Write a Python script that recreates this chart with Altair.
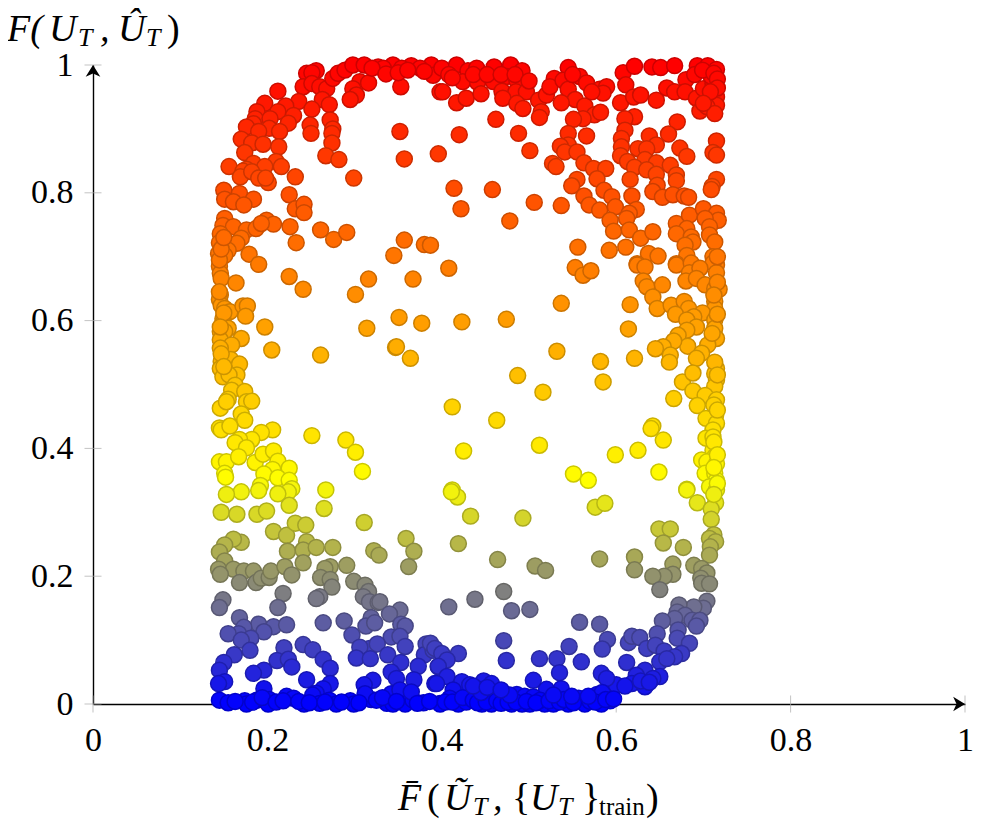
import altair as alt
import pandas as pd

top_left = [[.256,.991],[.245,.987],[.251,.988],[.241,.966],[.251,.971],[.260,.966],[.268,.963],[.275,.979],[.281,.987],[.289,.992],[.298,1.0],[.311,1.0],[.327,.997],[.344,1.0],[.365,.999],[.388,1.0],[.333,.995],[.354,.995],[.375,.995],[.390,.984],[.306,.974],[.316,.972],[.298,.963],[.302,.953],[.295,.946],[.353,.966],[.398,.958],[.212,.959],[.197,.940],[.236,.943],[.221,.936],[.263,.946],[.271,.938],[.251,.931],[.212,.927],[.188,.927],[.230,.921],[.186,.916],[.203,.916],[.224,.909],[.184,.908],[.176,.903],[.202,.901],[.214,.896],[.190,.896],[.272,.914],[.249,.906],[.275,.900],[.250,.893],[.274,.893],[.274,.878],[.170,.884],[.182,.878],[.195,.876],[.213,.872],[.174,.863],[.267,.858],[.282,.852],[.352,.896],[.357,.853],[.396,.861],[.156,.841],[.184,.846],[.210,.849],[.216,.841],[.197,.841],[.176,.837],[.172,.834],[.169,.825],[.182,.833],[.190,.823],[.201,.816],[.198,.823],[.232,.825],[.299,.823],[.150,.804],[.168,.799],[.184,.790],[.151,.790],[.161,.786],[.173,.781],[.225,.797],[.232,.775],[.242,.782],[.242,.769],[.151,.760],[.149,.749],[.161,.747],[.146,.736],[.176,.742],[.187,.744],[.199,.757],[.207,.751],[.193,.752],[.226,.747],[.261,.742],[.276,.727],[.291,.738],[.233,.722],[.170,.729],[.165,.721],[.145,.722],[.155,.710],[.144,.705],[.151,.702],[.145,.685],[.179,.704],[.190,.688],[.357,.726],[.380,.719],[.345,.702]]

mid_left = [[.146,.674],[.147,.666],[.164,.659],[.225,.669],[.241,.649],[.316,.665],[.367,.665],[.301,.641],[.146,.640],[.145,.633],[.147,.624],[.151,.619],[.157,.614],[.172,.623],[.177,.623],[.175,.607],[.149,.603],[.149,.596],[.155,.588],[.146,.583],[.151,.583],[.197,.590],[.170,.572],[.146,.570],[.159,.562],[.146,.557],[.205,.554],[.261,.546],[.314,.588],[.351,.605],[.377,.596],[.347,.558],[.348,.559],[.364,.541],[.147,.536],[.158,.539],[.168,.532],[.146,.525],[.165,.515],[.149,.512],[.156,.515],[.163,.499],[.159,.491],[.174,.489],[.155,.477],[.176,.473],[.182,.474],[.146,.463],[.153,.473],[.170,.454],[.174,.444],[.145,.432],[.147,.429],[.157,.435],[.206,.429],[.193,.425],[.182,.414],[.168,.414],[.163,.409],[.176,.401],[.251,.420],[.290,.413],[.301,.394],[.145,.379],[.153,.379],[.167,.387],[.186,.378],[.195,.391],[.207,.396],[.212,.380],[.225,.369],[.206,.367],[.196,.360],[.212,.354],[.225,.350],[.151,.361],[.152,.355],[.309,.364],[.192,.342],[.190,.334],[.228,.337],[.224,.332],[.212,.329],[.170,.332],[.153,.328],[.267,.335]]

low_left = [[.147,.300],[.165,.297],[.188,.297],[.199,.302],[.225,.311],[.265,.306],[.311,.284],[.207,.270],[.222,.264],[.232,.283],[.244,.280],[.245,.254],[.170,.253],[.161,.258],[.151,.249],[.145,.238],[.223,.239],[.241,.241],[.256,.245],[.275,.245],[.322,.240],[.328,.233],[.359,.259],[.368,.239],[.362,.215],[.151,.224],[.144,.211],[.161,.211],[.146,.203],[.173,.208],[.184,.208],[.168,.190],[.187,.190],[.193,.197],[.202,.198],[.204,.208],[.220,.215],[.228,.202],[.241,.221],[.272,.215],[.266,.212],[.291,.217],[.261,.198],[.272,.195],[.274,.183],[.299,.192],[.312,.186],[.316,.176],[.310,.168],[.317,.160],[.327,.159],[.329,.160],[.149,.163],[.145,.151],[.218,.173],[.212,.151],[.260,.168],[.256,.165],[.352,.147],[.340,.141],[.319,.135],[.168,.135],[.190,.125],[.207,.121],[.222,.124],[.173,.120],[.167,.110],[.155,.110],[.196,.113],[.181,.103],[.170,.100],[.264,.127],[.288,.130],[.297,.108],[.313,.122],[.323,.127],[.353,.125],[.358,.122],[.342,.105],[.352,.106],[.358,.090],[.317,.087],[.326,.094],[.306,.089],[.302,.072],[.318,.071],[.338,.077],[.353,.065],[.382,.094],[.380,.077],[.390,.084],[.373,.059],[.180,.084],[.162,.077],[.150,.065],[.145,.053],[.151,.035],[.144,.032],[.219,.088],[.241,.093],[.252,.085],[.264,.070],[.272,.056],[.211,.068],[.224,.070],[.228,.058],[.196,.053],[.184,.048],[.245,.038],[.272,.032],[.264,.024],[.256,.017],[.196,.024],[.342,.050],[.348,.040],[.368,.038],[.321,.037],[.311,.030],[.392,.032],[.396,.058],[.145,.006],[.155,.002],[.174,.005],[.176,.0],[.188,.006],[.202,.007],[.201,.0],[.222,.012],[.230,.009],[.242,.0],[.252,.014],[.260,.001],[.271,.006],[.279,.0],[.295,.005],[.299,.0],[.319,.007],[.312,.016],[.337,.001],[.342,.016],[.352,.022],[.344,.0],[.358,.0],[.367,.006],[.379,.002],[.398,.001],[.365,.019]]

low_right = [[.418,.324],[.411,.332],[.433,.294],[.493,.291],[.576,.308],[.587,.314],[.693,.315],[.681,.335],[.714,.315],[.709,.305],[.709,.289],[.649,.274],[.662,.274],[.654,.252],[.677,.245],[.712,.265],[.707,.259],[.714,.254],[.708,.246],[.707,.233],[.419,.251],[.464,.226],[.507,.216],[.519,.209],[.581,.227],[.621,.230],[.621,.210],[.665,.219],[.665,.203],[.655,.200],[.642,.200],[.650,.179],[.689,.217],[.698,.212],[.704,.205],[.697,.197],[.698,.189],[.707,.188],[.704,.161],[.700,.150],[.689,.152],[.672,.155],[.670,.144],[.679,.139],[.667,.134],[.687,.131],[.696,.131],[.692,.122],[.653,.130],[.671,.116],[.647,.110],[.471,.176],[.438,.164],[.408,.152],[.480,.146],[.501,.148],[.558,.128],[.581,.125],[.590,.101],[.584,.086],[.471,.099],[.474,.068],[.419,.079],[.512,.071],[.532,.071],[.546,.090],[.560,.066],[.535,.049],[.612,.065],[.614,.096],[.618,.106],[.627,.104],[.387,.095],[.392,.087],[.400,.079],[.406,.069],[.396,.059],[.406,.043],[.394,.032],[.635,.087],[.645,.092],[.655,.083],[.670,.103],[.684,.095],[.675,.079],[.667,.074],[.650,.066],[.658,.071],[.633,.053],[.623,.045],[.650,.043],[.642,.040],[.618,.032],[.633,.027],[.600,.030],[.583,.048],[.589,.040],[.505,.037],[.537,.024],[.520,.023],[.423,.035],[.432,.030],[.448,.036],[.457,.032],[.413,.022],[.440,.024],[.463,.017],[.486,.015],[.495,.012],[.505,.011],[.578,.015],[.584,.018],[.557,.009],[.593,.005],[.398,.0],[.419,.0],[.428,.003],[.446,.0],[.457,.0],[.472,.011],[.480,.0],[.492,.0],[.501,.0],[.518,.0],[.528,.0],[.545,.0],[.564,.0],[.583,.0],[.409,.009],[.455,.009],[.513,.006]]

mid_right = [[.408,.682],[.553,.683],[.562,.671],[.571,.678],[.624,.687],[.633,.684],[.669,.687],[.686,.690],[.711,.690],[.715,.675],[.684,.675],[.696,.682],[.631,.662],[.635,.653],[.653,.656],[.680,.662],[.692,.666],[.702,.656],[.713,.650],[.718,.649],[.642,.637],[.537,.627],[.616,.625],[.647,.619],[.663,.624],[.678,.630],[.683,.619],[.668,.610],[.713,.630],[.713,.619],[.699,.612],[.689,.606],[.681,.601],[.713,.601],[.713,.588],[.692,.590],[.681,.585],[.671,.577],[.423,.598],[.474,.602],[.614,.587],[.715,.572],[.705,.562],[.682,.560],[.666,.568],[.654,.559],[.645,.556],[.662,.546],[.661,.535],[.698,.549],[.692,.541],[.532,.552],[.582,.536],[.621,.541],[.487,.514],[.585,.504],[.516,.488],[.412,.465],[.463,.444],[.666,.478],[.676,.504],[.688,.518],[.688,.490],[.715,.525],[.713,.517],[.715,.507],[.713,.497],[.702,.483],[.715,.476],[.693,.467],[.714,.452],[.703,.447],[.715,.439],[.711,.429],[.703,.416],[.711,.418],[.711,.397],[.713,.387],[.698,.382],[.704,.379],[.715,.376],[.702,.361],[.713,.361],[.715,.350],[.707,.340],[.715,.335],[.642,.435],[.640,.431],[.654,.413],[.425,.396],[.512,.405],[.599,.390],[.625,.397],[.551,.360],[.568,.350],[.649,.363],[.681,.336],[.412,.335]]

top_right = [[.400,.995],[.417,1.0],[.430,.991],[.440,.995],[.460,.997],[.479,1.0],[.492,.991],[.424,.974],[.441,.973],[.459,.974],[.474,.982],[.486,.976],[.401,.958],[.417,.941],[.428,.948],[.445,.955],[.469,.959],[.485,.958],[.497,.958],[.470,.948],[.486,.940],[.493,.932],[.511,.945],[.520,.953],[.514,.927],[.512,.918],[.462,.915],[.420,.891],[.488,.893],[.501,.866],[.545,.996],[.529,.979],[.524,.966],[.539,.976],[.545,.962],[.558,.982],[.566,.972],[.553,.946],[.537,.941],[.564,.936],[.581,.962],[.589,.966],[.585,.956],[.575,.922],[.582,.926],[.562,.916],[.551,.915],[.608,.988],[.621,.998],[.641,.997],[.651,.996],[.667,.999],[.693,.999],[.705,.999],[.715,.993],[.611,.969],[.605,.941],[.620,.950],[.628,.953],[.646,.945],[.658,.964],[.680,.977],[.667,.958],[.679,.958],[.692,.948],[.700,.963],[.711,.971],[.715,.950],[.715,.937],[.696,.928],[.704,.935],[.713,.924],[.709,.982],[.621,.919],[.610,.916],[.610,.898],[.606,.885],[.606,.872],[.605,.858],[.670,.911],[.660,.892],[.638,.889],[.646,.875],[.625,.869],[.635,.869],[.613,.849],[.633,.852],[.646,.847],[.621,.840],[.635,.836],[.662,.843],[.673,.870],[.681,.857],[.669,.828],[.669,.819],[.646,.829],[.647,.812],[.642,.802],[.616,.821],[.618,.795],[.653,.793],[.665,.797],[.678,.795],[.683,.793],[.715,.881],[.711,.863],[.715,.859],[.715,.821],[.710,.810],[.709,.805],[.566,.889],[.545,.893],[.545,.875],[.536,.873],[.541,.864],[.555,.864],[.563,.847],[.574,.838],[.588,.838],[.527,.846],[.531,.841],[.578,.822],[.555,.821],[.549,.811],[.586,.804],[.563,.795],[.595,.794],[.569,.781],[.581,.773],[.599,.778],[.593,.757],[.623,.774],[.615,.768],[.612,.760],[.597,.740],[.615,.742],[.628,.729],[.414,.807],[.458,.805],[.422,.775],[.506,.785],[.537,.780],[.478,.756],[.556,.715],[.592,.710],[.611,.715],[.642,.739],[.637,.705],[.648,.701],[.624,.689],[.669,.752],[.684,.765],[.700,.775],[.715,.768],[.717,.757],[.702,.760],[.681,.744],[.669,.736],[.686,.731],[.707,.747],[.707,.734],[.713,.723],[.688,.723],[.679,.718],[.681,.702],[.711,.700],[.669,.689],[.686,.689],[.715,.687],[.387,.718]]

# Hidden points inside the densest bands (estimated from the filled-in look).
band_points = [[.163,.004],[.183,.003],[.194,.010],[.210,.003],[.218,.005],[.236,.004],[.248,.002],[.266,.003],[.285,.003],[.305,.002],[.325,.006],[.332,.010],[.348,.004],[.372,.001],[.386,.004],[.404,.003],[.412,.003],[.424,.010],[.436,.006],[.441,.002],[.451,.003],[.463,.005],[.468,.001],[.476,.003],[.485,.003],[.497,.004],[.508,.002],[.523,.005],[.535,.003],[.540,.007],[.551,.002],[.570,.004],[.576,.003],[.588,.007],[.597,.008],[.445,.018],[.478,.014],[.528,.014],[.549,.012],[.568,.012],[.436,.028],[.452,.026],[.468,.022],[.610,.028],[.628,.036],[.638,.034],[.320,.995],[.336,.986],[.350,.988],[.361,.992],[.380,.990],[.408,.985],[.412,.980],[.436,.985],[.452,.985],[.468,.985],[.484,.985],[.500,.975],[.550,.985],[.572,.958],[.690,.985],[.699,.992],[.712,.987],[.716,.978],[.716,.964],[.708,.958],[.700,.940],[.145,.695],[.147,.712],[.150,.730],[.145,.645],[.150,.612],[.146,.590],[.147,.548],[.150,.528],[.716,.700],[.716,.660],[.712,.640],[.716,.610],[.710,.580],[.713,.535],[.716,.515],[.712,.468],[.716,.460],[.712,.410],[.716,.390],[.712,.370],[.716,.345],[.712,.328]]

tick_values = [0, 0.2, 0.4, 0.6, 0.8, 1]
y_title_parts = ["F(", "U", "T", ",", "Û", "T", ")"]
x_title_parts = ["F̄", "(", "Ũ", "T", ",", "{", "U", "T", "}", "train", ")"]

rows = top_left + top_right + mid_left + mid_right + low_left + low_right + band_points
points = pd.DataFrame(rows, columns=["x", "y"])
ticks = pd.DataFrame({"v": tick_values, "zero": [0] * len(tick_values)})

SERIF = "Liberation Serif"
x_scale = alt.Scale(domain=[0, 1], nice=False, zero=False)
y_scale = alt.Scale(domain=[0, 1], nice=False, zero=False)
x_axis = alt.Axis(values=tick_values, format="~g", grid=False, ticks=False, domainColor="#000000", domainWidth=1.4,
                  labelFont=SERIF, labelFontSize=34, labelColor="#000000", labelPadding=19, labelOverlap=False,
                  labelFlush=False, labelAngle=0, title=None)
y_axis = alt.Axis(values=tick_values, format="~g", grid=False, ticks=False, domainColor="#000000", domainWidth=1.4,
                  labelFont=SERIF, labelFontSize=34, labelColor="#000000", labelPadding=20, labelOverlap=False,
                  labelFlush=False, title=None)

x_ticks = alt.Chart(ticks).mark_tick(orient="vertical", color="#aaaaaa", thickness=1, size=17).encode(
    x=alt.X("v:Q", scale=x_scale, axis=x_axis), y=alt.Y("zero:Q", scale=y_scale, axis=y_axis))
y_ticks = alt.Chart(ticks).mark_tick(orient="horizontal", color="#aaaaaa", thickness=1, size=17).encode(
    y=alt.Y("v:Q", scale=y_scale), x=alt.X("zero:Q", scale=x_scale))

arrow_right = "M-1,-0.62 L0,0 L-1,0.62 L-0.72,0 Z"
arrow_up = "M-0.62,1 L0,0 L0.62,1 L0,0.72 Z"
arrow_x = alt.Chart(pd.DataFrame({"x": [1], "y": [0]})).mark_point(
    shape=arrow_right, filled=True, color="#000000", size=560, opacity=1, strokeWidth=0).encode(
    x=alt.X("x:Q", scale=x_scale), y=alt.Y("y:Q", scale=y_scale))
arrow_y = alt.Chart(pd.DataFrame({"x": [0], "y": [1]})).mark_point(
    shape=arrow_up, filled=True, color="#000000", size=560, opacity=1, strokeWidth=0).encode(
    x=alt.X("x:Q", scale=x_scale), y=alt.Y("y:Q", scale=y_scale))

dots = alt.Chart(points).mark_circle(size=255, opacity=1, fillOpacity=1, strokeWidth=1.5, clip=False).encode(
    x=alt.X("x:Q", scale=x_scale),
    y=alt.Y("y:Q", scale=y_scale),
    fill=alt.Fill("y:Q", legend=None, scale=alt.Scale(domain=[0, 0.35, 1], range=["#0000ff", "#ffff00", "#ff0000"], interpolate="rgb")),
    stroke=alt.Stroke("y:Q", legend=None, scale=alt.Scale(domain=[0, 0.35, 1], range=["#0000cc", "#cccc00", "#cc0000"], interpolate="rgb")),
)


def piece(text, px, py, size=38, style="italic"):
    return alt.Chart(pd.DataFrame({"t": [text]})).mark_text(
        x=px, y=py, font=SERIF, fontSize=size, fontStyle=style, align="left", baseline="alphabetic", color="#000000"
    ).encode(text="t:N")


# The title pieces sit relative to the plot area's top-left corner.
y_title = [
    piece(y_title_parts[0], -86, -24),
    piece(y_title_parts[1], -44, -24),
    piece(y_title_parts[2], -15, -19, 26),
    piece(y_title_parts[3], 7, -24),
    piece(y_title_parts[4], 25, -24),
    piece(y_title_parts[5], 53, -19, 26),
    piece(y_title_parts[6], 74, -24, 38, "normal"),
]
x_title = [
    piece(x_title_parts[0], 305, 745),
    piece(x_title_parts[1], 334, 745, 38, "normal"),
    piece(x_title_parts[2], 351, 745),
    piece(x_title_parts[3], 380, 750, 26),
    piece(x_title_parts[4], 400, 745),
    piece(x_title_parts[5], 419, 745, 38, "normal"),
    piece(x_title_parts[6], 437, 745),
    piece(x_title_parts[7], 465, 750, 26),
    piece(x_title_parts[8], 489, 745, 38, "normal"),
    piece(x_title_parts[9], 506, 750, 25, "normal"),
    piece(x_title_parts[10], 553, 745, 38, "normal"),
]

chart = alt.layer(x_ticks, y_ticks, arrow_x, arrow_y, dots, *y_title, *x_title).resolve_scale(
    fill="independent", stroke="independent"
).properties(
    width=872, height=639,
    autosize=alt.AutoSizeParams(type="none"),
    padding={"left": 85, "top": 57, "right": 8, "bottom": 119},
).configure_view(stroke=None).configure_axis(zindex=0)

chart.save("out.html", embed_options={"renderer": "svg", "actions": False})
